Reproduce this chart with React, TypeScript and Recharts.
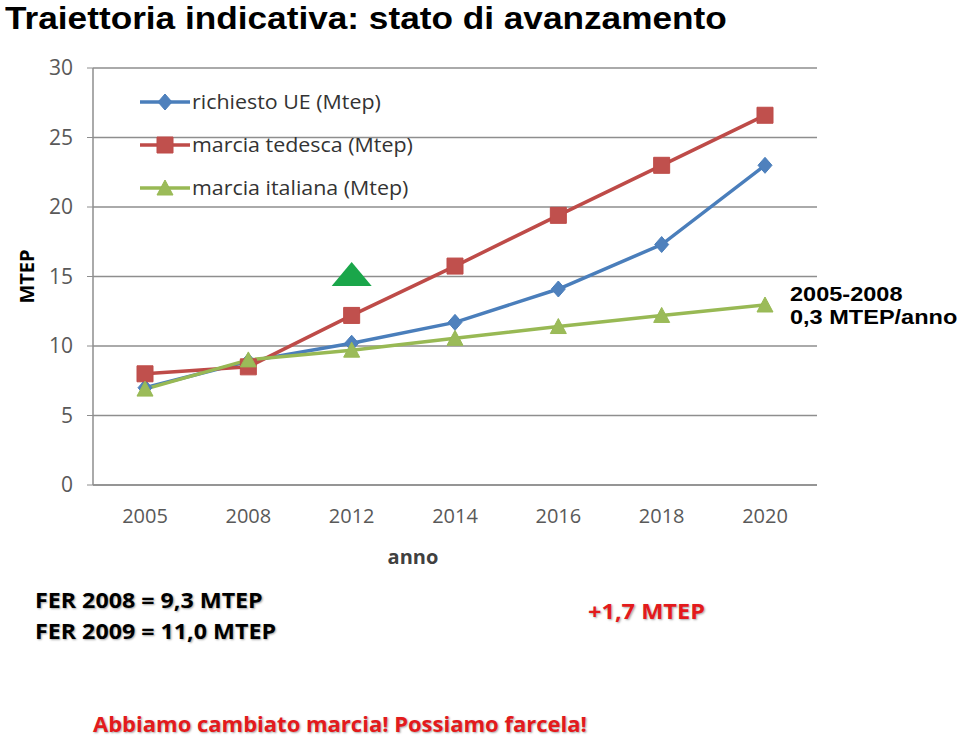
import React from "react";
import {
  CartesianGrid,
  Legend,
  Line,
  LineChart,
  ReferenceDot,
  XAxis,
  YAxis,
} from "recharts";

const years = ["2005", "2008", "2012", "2014", "2016", "2018", "2020"];
const richiestoUE = [7.0, 8.9, 10.2, 11.7, 14.1, 17.3, 23.0];
const marciaTedesca = [8.0, 8.5, 12.2, 15.75, 19.4, 23.0, 26.6];
const marciaItaliana = [6.9, 9.0, 9.7, 10.55, 11.4, 12.2, 12.95];
const yTicks = [0, 5, 10, 15, 20, 25, 30];

const data = years.map((y, i) => ({
  anno: y,
  ue: richiestoUE[i],
  ted: marciaTedesca[i],
  ita: marciaItaliana[i],
}));

const FONT = "'Open Sans', 'Noto Sans', sans-serif";
const ARIAL = "'Liberation Sans', Arial, sans-serif";
const BLUE = "#4A7EBB";
const RED = "#BE4B48";
const GREEN = "#98B954";

function diamond(cx: number, cy: number, r = 8) {
  return `M${cx},${cy - r}L${cx + r - 1},${cy}L${cx},${cy + r}L${cx - r + 1},${cy}Z`;
}
function square(cx: number, cy: number, r = 8) {
  return `M${cx - r},${cy - r}h${2 * r}v${2 * r}h${-2 * r}Z`;
}
function triangle(cx: number, cy: number, r = 8) {
  return `M${cx},${cy - r}L${cx + r},${cy + r - 1}L${cx - r},${cy + r - 1}Z`;
}

const makeDot =
  (shape: (cx: number, cy: number, r?: number) => string, fill: string, stroke: string) =>
  (props: any) => {
    const { cx, cy, index } = props;
    if (cx == null || cy == null) return <g key={`n-${index}`} />;
    return <path key={`d-${index}`} d={shape(cx, cy)} fill={fill} stroke={stroke} strokeWidth={1} />;
  };

const legendRows = [
  { name: "richiesto UE (Mtep)", color: BLUE, fill: "#4F81BD", shape: diamond },
  { name: "marcia tedesca (Mtep)", color: RED, fill: "#C0504D", shape: square },
  { name: "marcia italiana (Mtep)", color: GREEN, fill: "#9BBB59", shape: triangle },
];

function LegendBox() {
  return (
    <div style={{ fontFamily: FONT }}>
      {legendRows.map((r) => (
        <div key={r.name} style={{ display: "flex", alignItems: "center", height: 43 }}>
          <svg width={54} height={20}>
            <line x1={2} y1={10} x2={52} y2={10} stroke={r.color} strokeWidth={3.5} />
            <path d={r.shape(27, 10)} fill={r.fill} stroke={r.color} />
          </svg>
          <span
            style={{
              fontSize: 20,
              color: "#333",
              display: "inline-block",
              transform: "scaleX(1.07)",
              transformOrigin: "left center",
              whiteSpace: "nowrap",
            }}
          >
            {r.name}
          </span>
        </div>
      ))}
    </div>
  );
}

// green marker drawn above the 2012 point
function FlagShape(props: any) {
  const { cx, cy } = props;
  return <path d={`M${cx},${cy - 13}L${cx + 20},${cy + 11}L${cx - 20},${cy + 11}Z`} fill="#1AA64A" />;
}

const shadow = "1px 1px 2px rgba(0,0,0,0.35)";

export default function App() {
  return (
    <div style={{ position: "absolute", left: 0, top: 0, width: 960, height: 738, background: "#fff", overflow: "hidden" }}>
      <div
        style={{
          position: "absolute",
          left: 5,
          top: 0,
          fontFamily: ARIAL,
          fontWeight: 700,
          fontSize: 32,
          color: "#000",
          whiteSpace: "nowrap",
          transform: "scaleX(1.1)",
          transformOrigin: "left top",
        }}
      >
        Traiettoria indicativa: stato di avanzamento
      </div>

      <div style={{ position: "absolute", left: 0, top: 0 }}>
        <LineChart width={960} height={738} data={data} margin={{ top: 68, right: 143, bottom: 193, left: 0 }}>
          <CartesianGrid vertical={false} stroke="#8E8E8E" strokeWidth={1.5} />
          <XAxis
            dataKey="anno"
            padding={{ left: 52, right: 52 }}
            height={60}
            axisLine={{ stroke: "#8E8E8E", strokeWidth: 1.5 }}
            tickLine={false}
            tickMargin={18}
            tick={{ fill: "#595959", fontSize: 20, fontFamily: FONT }}
            label={{
              value: "anno",
              position: "bottom",
              offset: 5,
              dx: -42,
              fill: "#404040",
              fontSize: 20,
              fontWeight: 700,
              fontFamily: FONT,
            }}
          />
          <YAxis
            width={93}
            domain={[0, 30]}
            ticks={yTicks}
            interval={0}
            axisLine={{ stroke: "#8E8E8E", strokeWidth: 1.5 }}
            tickLine={{ stroke: "#8E8E8E" }}
            tickSize={6}
            tickMargin={14}
            tick={{ fill: "#595959", fontSize: 21, fontFamily: FONT }}
            label={{
              value: "MTEP",
              angle: -90,
              position: "center",
              dx: -20,
              fill: "#000",
              fontSize: 20,
              fontWeight: 700,
              fontFamily: FONT,
            }}
          />
          <Legend
            layout="vertical"
            align="center"
            verticalAlign="middle"
            wrapperStyle={{ left: 138, top: 80, width: 320 }}
            content={() => <LegendBox />}
          />
          <Line
            dataKey="ue"
            name="richiesto UE (Mtep)"
            stroke={BLUE}
            strokeWidth={3.5}
            dot={makeDot(diamond, "#4F81BD", BLUE)}
            isAnimationActive={false}
          />
          <Line
            dataKey="ted"
            name="marcia tedesca (Mtep)"
            stroke={RED}
            strokeWidth={3.5}
            dot={makeDot(square, "#C0504D", RED)}
            isAnimationActive={false}
          />
          <Line
            dataKey="ita"
            name="marcia italiana (Mtep)"
            stroke={GREEN}
            strokeWidth={3.5}
            dot={makeDot(triangle, "#9BBB59", GREEN)}
            isAnimationActive={false}
          />
          <ReferenceDot x="2012" y={15.1} shape={FlagShape} ifOverflow="visible" />
        </LineChart>
      </div>

      <div
        style={{
          position: "absolute",
          left: 790,
          top: 282,
          fontFamily: ARIAL,
          fontWeight: 700,
          fontSize: 21,
          lineHeight: "23px",
          color: "#000",
          whiteSpace: "nowrap",
          transform: "scaleX(1.12)",
          transformOrigin: "left top",
        }}
      >
        <div>2005-2008</div>
        <div>0,3 MTEP/anno</div>
      </div>

      <div
        style={{
          position: "absolute",
          left: 35,
          top: 584,
          fontFamily: FONT,
          fontWeight: 700,
          fontSize: 21.5,
          lineHeight: "31px",
          color: "#000",
          textShadow: shadow,
          whiteSpace: "nowrap",
          transform: "scaleX(1.08)",
          transformOrigin: "left top",
        }}
      >
        <div>FER 2008 = 9,3 MTEP</div>
        <div>FER 2009 = 11,0 MTEP</div>
      </div>

      <div
        style={{
          position: "absolute",
          left: 588,
          top: 597,
          fontFamily: FONT,
          fontWeight: 700,
          fontSize: 21,
          color: "#E31A1C",
          textShadow: shadow,
          whiteSpace: "nowrap",
          transform: "scaleX(1.12)",
          transformOrigin: "left top",
        }}
      >
        +1,7 MTEP
      </div>

      <div
        style={{
          position: "absolute",
          left: 93,
          top: 708,
          fontFamily: FONT,
          fontWeight: 700,
          fontSize: 22,
          color: "#E31A1C",
          textShadow: shadow,
          whiteSpace: "nowrap",
        }}
      >
        Abbiamo cambiato marcia! Possiamo farcela!
      </div>
    </div>
  );
}
